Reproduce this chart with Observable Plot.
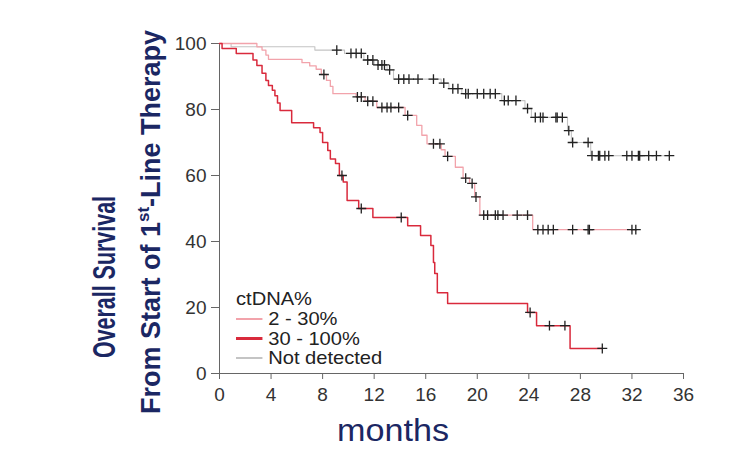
<!DOCTYPE html>
<html>
<head>
<meta charset="utf-8">
<script src="https://cdn.jsdelivr.net/npm/d3@7"></script>
<script src="https://cdn.jsdelivr.net/npm/@observablehq/plot@0.6"></script>
<style>
  body { margin: 0; background: #fff; }
  #chart svg { display: block; }
</style>
</head>
<body>
<div id="chart"></div>
<script>
// Kaplan–Meier overall survival by ctDNA fraction.
// Each curve: step points [month, survival %], censored times (months), last follow-up.
const groups = ["2 - 30%", "30 - 100%", "Not detected"];
const groupColors = ["#f2a3ab", "#d92a3c", "#c4c4c4"];
const groupWidths = [1.3, 1.5, 1.1];

const lowSteps = [[0,100],[2.9,99],[3.3,98],[3.6,96.5],[3.8,95.2],[6.4,94.2],[7.0,93.2],[7.5,92.2],[7.9,90.6],
  [8.3,88.8],[8.6,87],[8.8,84.8],[10.6,83.8],[11.3,82.5],[12.2,80.6],[14.4,78.2],[15.3,75.2],[15.7,72.2],
  [16.1,69.6],[17.2,67.8],[17.5,65.8],[18.3,62.5],[18.9,59.2],[19.4,57.6],[19.8,53.5],[20.2,48],[24.3,43.6]];
const lowCensored = [8.1,10.7,11.0,11.5,11.9,12.6,13.0,13.3,13.9,14.6,16.6,17.1,17.7,19.1,19.6,19.9,20.5,20.8,
  21.4,21.6,22.0,23.1,23.9,24.7,25.1,25.5,25.9,27.4,28.6,28.7,32.0,32.3];
const lowEnd = 32.4;

const highSteps = [[0,100],[0.2,98.5],[1.3,97],[2.6,95],[2.9,93.3],[3.3,91],[3.6,88.8],[3.8,87.3],[4.1,85.8],
  [4.3,84.2],[4.5,82],[4.7,79.7],[5.6,76],[7.3,74.5],[7.8,73],[8.0,70],[8.4,67.6],[8.6,65],[9.0,63.6],[9.3,60],
  [9.6,58],[9.9,52.4],[10.8,50],[11.9,47.3],[14.6,44.8],[15.6,41.8],[16.4,38.8],[16.6,33.6],[16.7,30.3],
  [16.9,24.5],[17.7,21.2],[23.9,18.5],[24.6,14.5],[27.2,7.6]];
const highCensored = [9.5,11.0,14.1,24.1,25.6,26.8,29.7];
const highEnd = 29.7;

const ndSteps = [[0,100],[0.9,99],[7.4,98],[9.7,97],[11.2,95],[12.0,93.5],[13.0,92],[13.5,89.2],[17.2,88],
  [17.8,86.3],[18.8,84.8],[21.9,82.7],[23.7,80.3],[24.2,77.6],[27.0,73.6],[27.3,70],[28.8,66]];
const ndCensored = [9.1,10.2,10.6,11.0,11.5,11.9,12.3,12.6,12.8,13.2,13.9,14.3,14.7,15.4,16.6,17.4,18.1,18.5,
  19.1,19.3,20.0,20.5,21.0,21.4,22.1,22.4,23.0,23.9,24.5,24.9,25.1,26.1,26.2,26.6,27.1,27.4,28.6,28.9,29.4,
  29.5,29.9,30.2,31.6,32.0,32.5,32.6,33.3,33.9,34.9];
const ndEnd = 34.9;

const xTicks = [0,4,8,12,16,20,24,28,32,36];
const yTicks = [0,20,40,60,80,100];

const series = [
  {name: groups[0], steps: lowSteps, censored: lowCensored, end: lowEnd},
  {name: groups[1], steps: highSteps, censored: highCensored, end: highEnd},
  {name: groups[2], steps: ndSteps, censored: ndCensored, end: ndEnd}
];

// survival estimate in effect at time t (last step at or before t)
function survivalAt(steps, t) {
  let v = steps[0][1];
  for (const [ti, vi] of steps) if (ti <= t) v = vi;
  return v;
}

const curve = s => [...s.steps, [s.end, s.steps[s.steps.length - 1][1]]]
  .map(([t, v]) => ({group: s.name, t, v}));
const censorData = series.flatMap(s => s.censored.map(t => ({group: s.name, t, v: survivalAt(s.steps, t)})));

// draw order: not detected underneath, then 2-30%, then 30-100%
const drawOrder = [2, 0, 1];

const plot = Plot.plot({
  width: 741,
  height: 449,
  marginLeft: 219,
  marginRight: 58,
  marginTop: 43,
  marginBottom: 76,
  style: {fontFamily: "'Liberation Sans', Arial, sans-serif", fontSize: "19px", color: "#333", background: "#fff"},
  x: {domain: [0, 36]},
  y: {domain: [0, 100]},
  marks: [
    Plot.axisX({ticks: xTicks, tickSize: 6, tickPadding: 8, label: null, stroke: "#666"}),
    Plot.axisY({ticks: yTicks, tickSize: 8, tickPadding: 5, label: null, stroke: "#666"}),
    Plot.ruleX([0], {stroke: "#666"}),
    Plot.ruleY([0], {stroke: "#666"}),
    ...drawOrder.map(i => Plot.line(curve(series[i]), {
      x: "t", y: "v", curve: "step-after", stroke: groupColors[i], strokeWidth: groupWidths[i]
    })),
    Plot.dot(censorData, {x: "t", y: "v", symbol: "plus", r: 3.3, stroke: "#222", strokeWidth: 1.3})
  ]
});

document.getElementById("chart").append(plot);

const svg = d3.select(plot);
const navy = "#1b2763";
const font = "'Liberation Sans', Arial, sans-serif";

// y-axis titles
svg.append("text")
  .attr("transform", "translate(115,277) rotate(-90)")
  .attr("text-anchor", "middle")
  .attr("font-family", font).attr("font-weight", "bold").attr("font-size", 32)
  .attr("fill", navy)
  .attr("textLength", 162).attr("lengthAdjust", "spacingAndGlyphs")
  .text("Overall Survival");

const sub = svg.append("text")
  .attr("transform", "translate(160,222) rotate(-90)")
  .attr("text-anchor", "middle")
  .attr("font-family", font).attr("font-weight", "bold").attr("font-size", 27)
  .attr("fill", navy);
sub.append("tspan").text("From Start of 1");
sub.append("tspan").attr("font-size", 17).attr("dy", -11).text("st");
sub.append("tspan").attr("dy", 11).text("-Line Therapy");

// x-axis title
svg.append("text")
  .attr("x", 393).attr("y", 441)
  .attr("text-anchor", "middle")
  .attr("font-family", font).attr("font-size", 32)
  .attr("fill", navy)
  .attr("textLength", 112).attr("lengthAdjust", "spacingAndGlyphs")
  .text("months");

// legend (slightly widened lettering)
const legend = svg.append("g")
  .attr("transform", "translate(236,0) scale(1.15,1)")
  .attr("font-family", font).attr("font-size", 17.5).attr("fill", "#222").attr("text-anchor", "start");
legend.append("text").attr("x", 0).attr("y", 305).text("ctDNA%");
groups.forEach((g, i) => {
  const y = 319 + i * 19.5;
  legend.append("line").attr("x1", 0).attr("x2", 23).attr("y1", y).attr("y2", y)
    .attr("stroke", groupColors[i]).attr("stroke-width", i === 1 ? 3 : 2);
  legend.append("text").attr("x", 28).attr("y", y + 6.5).text(g);
});
</script>
</body>
</html>
